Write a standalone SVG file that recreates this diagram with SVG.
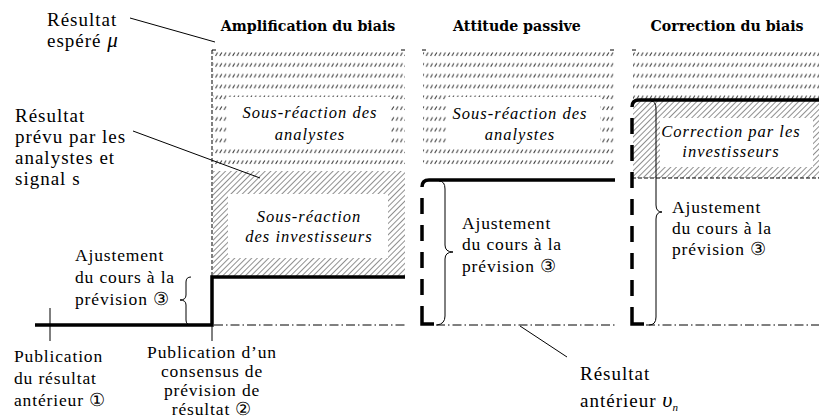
<svg xmlns="http://www.w3.org/2000/svg" width="819" height="419" viewBox="0 0 819 419">
<style>
  text { font-family: "Liberation Serif", "DejaVu Serif", serif; fill: #000; }
  .lbl { font-size: 17.5px; letter-spacing: 0.85px; }
  .big { font-size: 19px; letter-spacing: 1px; }
  .ttl { font-family: "DejaVu Serif", "Liberation Serif", serif; font-size: 14.2px; font-weight: bold; text-anchor: middle; }
  .box { font-size: 16.5px; letter-spacing: 1px; font-style: italic; text-anchor: middle; }
  .greek { font-family: "Liberation Serif", "DejaVu Serif", serif; font-style: italic; letter-spacing: 0; }
  .thin { stroke: #000; stroke-width: 1; fill: none; }
  .thick { stroke: #000; stroke-width: 3.5; fill: none; }
  .tdash { stroke: #000; stroke-width: 3.5; fill: none; stroke-dasharray: 16 11; }
  .fdash { stroke: #000; stroke-width: 1; fill: none; stroke-dasharray: 4 2; }
  .dashdot { stroke: #000; stroke-width: 1; fill: none; stroke-dasharray: 9 3 1.5 3; }
  .light { fill: url(#lightHatch); }
  .dense { fill: url(#denseHatch); }
  .white { fill: #fff; }
</style>
<defs>
  <pattern id="lightHatch" patternUnits="userSpaceOnUse" x="0" y="51" width="4.3" height="10.8">
    <line x1="0.5" y1="4.8" x2="2.5" y2="1.4" stroke="#333" stroke-width="1"/>
  </pattern>
  <pattern id="denseHatch" patternUnits="userSpaceOnUse" x="0" y="0" width="4" height="4" patternTransform="rotate(45)">
    <line x1="0" y1="0" x2="0" y2="4" stroke="#333" stroke-width="1.1"/>
  </pattern>
</defs>

<g id="panel-amplification">
  <rect class="light" x="213" y="51" width="192" height="119"/>
  <rect class="white" x="228" y="97" width="162" height="51"/>
  <rect class="dense" x="213" y="171" width="192" height="105"/>
  <rect class="white" x="228" y="194" width="160" height="64"/>
  <line class="fdash" x1="212" y1="50" x2="212" y2="276"/>
  <line class="thin" x1="212" y1="50" x2="216" y2="50"/>
  <line class="thin" x1="401" y1="50" x2="405" y2="50"/>
  <line class="dashdot" x1="214" y1="325" x2="405" y2="325"/>
  <text class="ttl" x="308" y="31">Amplification du biais</text>
  <text class="box" x="310" y="118">Sous-réaction des</text>
  <text class="box" x="310" y="140">analystes</text>
  <text class="box" x="309" y="222">Sous-réaction</text>
  <text class="box" x="309" y="242">des investisseurs</text>
</g>

<g id="panel-passive">
  <rect class="light" x="423" y="51" width="192" height="119"/>
  <rect class="white" x="447" y="97" width="153" height="50"/>
  <line class="thin" x1="422" y1="50" x2="426" y2="50"/>
  <line class="thin" x1="610" y1="50" x2="614" y2="50"/>
  <path class="thick" d="M422,187 Q422,180 429,180 L615,180"/>
  <line class="tdash" x1="422" y1="198" x2="422" y2="300"/>
  <path class="thick" d="M422,306 L422,324 L434,324"/>
  <line class="dashdot" x1="436" y1="325" x2="615" y2="325"/>
  <text class="ttl" x="517" y="31">Attitude passive</text>
  <text class="box" x="520" y="119">Sous-réaction des</text>
  <text class="box" x="520" y="140">analystes</text>
</g>

<g id="panel-correction">
  <rect class="light" x="633" y="51" width="186" height="48"/>
  <rect class="dense" x="633" y="101" width="186" height="77"/>
  <rect class="white" x="660" y="118" width="153" height="49"/>
  <line class="thin" x1="632" y1="50" x2="636" y2="50"/>
  <line class="fdash" x1="632" y1="178" x2="819" y2="178"/>
  <path class="thick" d="M632,107 Q632,100 639,100 L819,100"/>
  <line class="tdash" x1="632" y1="118" x2="632" y2="300"/>
  <path class="thick" d="M632,307 L632,324 L644,324"/>
  <line class="dashdot" x1="646" y1="325" x2="819" y2="325"/>
  <text class="ttl" x="727" y="31">Correction du biais</text>
  <text class="box" x="731" y="137">Correction par les</text>
  <text class="box" x="731" y="157">investisseurs</text>
</g>

<g id="price-line">
  <path class="thick" d="M35,325 L212,325 L212,277 L405,277"/>
  <line class="thin" x1="50" y1="308" x2="50" y2="341"/>
  <line class="thin" x1="212" y1="325" x2="212" y2="341"/>
</g>

<g id="connectors">
  <line class="thin" x1="130" y1="18" x2="215" y2="42"/>
  <line class="thin" x1="133" y1="131" x2="260" y2="178"/>
  <line class="thin" x1="520" y1="326" x2="567" y2="357"/>
  <path class="thin" d="M191,277 Q186,277 186,282 L186,295 Q186,300 180,300 Q186,300 186,305 L186,320 Q186,325 191,325"/>
  <path class="thin" d="M439,181 Q445,181 445,189 L445,245 Q445,252 453,252 Q445,252 445,259 L445,316 Q445,324 437,325"/>
  <path class="thin" d="M651,101 Q656,101 656,109 L656,205 Q656,212 662,212 Q656,212 656,219 L656,317 Q656,325 649,325"/>
</g>

<g id="labels">
  <text class="big" x="47" y="26">Résultat</text>
  <text class="big" x="47" y="47">espéré <tspan class="greek" font-size="21">μ</tspan></text>
  <text class="big" x="15" y="122">Résultat</text>
  <text class="big" x="15" y="143">prévu par les</text>
  <text class="big" x="15" y="164">analystes et</text>
  <text class="big" x="15" y="185">signal s</text>
  <text class="lbl" x="75" y="261">Ajustement</text>
  <text class="lbl" x="75" y="283">du cours à la</text>
  <text class="lbl" x="75" y="305">prévision ③</text>
  <text class="lbl" x="14" y="362">Publication</text>
  <text class="lbl" x="14" y="384">du résultat</text>
  <text class="lbl" x="14" y="406">antérieur ①</text>
  <text class="lbl" x="212" y="358" text-anchor="middle">Publication d’un</text>
  <text class="lbl" x="212" y="377" text-anchor="middle">consensus de</text>
  <text class="lbl" x="212" y="396" text-anchor="middle">prévision de</text>
  <text class="lbl" x="212" y="415" text-anchor="middle">résultat ②</text>
  <text class="lbl" x="462" y="229">Ajustement</text>
  <text class="lbl" x="462" y="250">du cours à la</text>
  <text class="lbl" x="462" y="272">prévision ③</text>
  <text class="lbl" x="672" y="213">Ajustement</text>
  <text class="lbl" x="672" y="234">du cours à la</text>
  <text class="lbl" x="672" y="255">prévision ③</text>
  <text class="big" x="580" y="380">Résultat</text>
  <text class="big" x="580" y="407">antérieur <tspan class="greek" font-size="22">υ</tspan><tspan class="greek" font-size="11" dy="4">n</tspan></text>
</g>
</svg>
